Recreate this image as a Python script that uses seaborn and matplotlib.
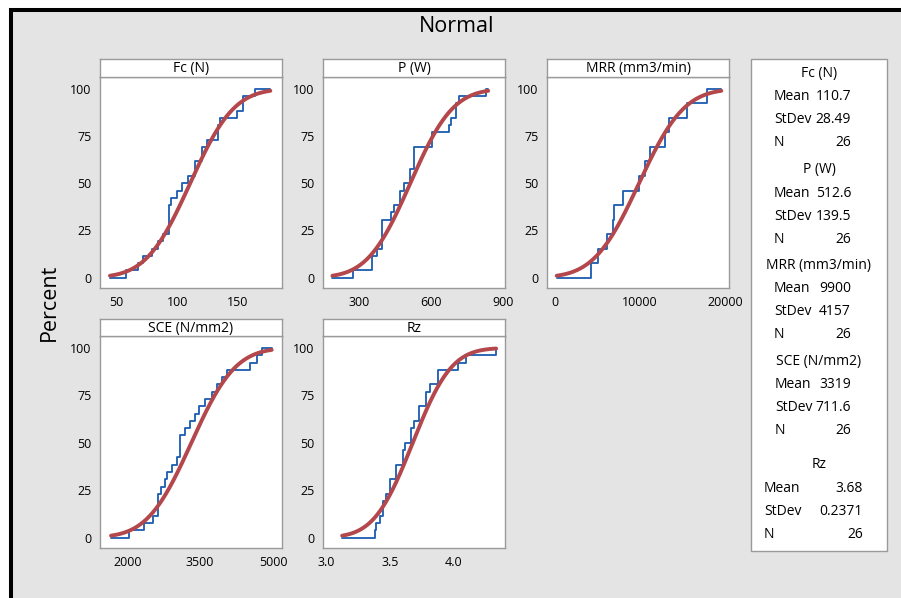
import math
import numpy as np
import matplotlib
matplotlib.use("Agg")
import matplotlib.pyplot as plt
from matplotlib.patches import Rectangle
import seaborn as sns

###############################################################################
# Data (read off the chart) - 26 sorted observations per response
###############################################################################
fc_vals = [57.7, 67.9, 72, 79, 84.4, 88, 93.5, 93.5, 93.5, 93.5, 95, 100.1, 103.7,
           109.2, 114.7, 114.7, 120.8, 120.8, 125, 134, 134, 135.5, 149.2, 154, 154, 164.3]
p_vals = [274.8, 351.7, 351.7, 375.5, 393.7, 393.7, 393.7, 393.7, 431.5, 442.7, 470.6,
          470.6, 484.6, 512.6, 512.6, 526.6, 526.6, 526.6, 603.5, 603.5, 673.4, 683.2,
          701.4, 701.4, 715.4, 827.3]
mrr_vals = [4213, 4213, 5118, 5118, 6102, 6102, 6811, 6811, 6969, 6969, 8071, 8071,
            9843, 9843, 10630, 10630, 11220, 11220, 12992, 12992, 13386, 13386,
            15551, 15551, 17835, 17835]
sce_vals = [2041, 2351, 2537, 2640, 2640, 2640, 2700, 2778, 2826, 2915, 3032, 3087,
            3087, 3087, 3190, 3293, 3397, 3466, 3603, 3741, 3844, 3947, 4050, 4518,
            4670, 4773]
rz_vals = [3.382, 3.39, 3.426, 3.447, 3.447, 3.468, 3.504, 3.504, 3.551, 3.551, 3.603,
           3.603, 3.616, 3.668, 3.668, 3.686, 3.728, 3.728, 3.785, 3.785, 3.816, 3.876,
           3.876, 4.032, 4.092, 4.331]

names = ["Fc (N)", "P (W)", "MRR (mm3/min)", "SCE (N/mm2)", "Rz"]
all_vals = [fc_vals, p_vals, mrr_vals, sce_vals, rz_vals]
means = [110.7, 512.6, 9900, 3319, 3.68]
stdevs = [28.49, 139.5, 4157, 711.6, 0.2371]
mean_txt = ["110.7", "512.6", "9900", "3319", "3.68"]
sd_txt = ["28.49", "139.5", "4157", "711.6", "0.2371"]
n_txt = ["26", "26", "26", "26", "26"]

xticks = [[50, 100, 150], [300, 600, 900], [0, 10000, 20000], [2000, 3500, 5000], [3.0, 3.5, 4.0]]
xticklabels = [["50", "100", "150"], ["300", "600", "900"], ["0", "10000", "20000"],
               ["2000", "3500", "5000"], ["3.0", "3.5", "4.0"]]
yticks = [0, 25, 50, 75, 100]

###############################################################################
# Layout (pixels of the 901 x 598 image)
###############################################################################
W, H = 901, 598
xlims = [(36.2, 186.6), (149, 907), (-909, 20470), (1437, 5186), (2.979, 4.40)]
panel_px = [(100, 77, 182, 211), (323, 77, 182, 211), (547, 77, 182, 211),
            (100, 336, 182, 212), (323, 336, 182, 212)]
header_h = [18, 18, 18, 17, 17]

BG = "#e4e4e4"
FRAME = "#9a9a9a"
BLUE = "#1a5cb0"
RED = "#b3474b"

sns.set_style("white")
plt.rcParams["font.family"] = ["Open Sans", "DejaVu Sans"]
plt.rcParams["text.color"] = "black"


def fig_rect(x, y, w, h):
    return [x / W, 1 - (y + h) / H, w / W, h / H]


def norm_cdf(x, mu, sd):
    return 0.5 * (1 + math.erf((x - mu) / (sd * math.sqrt(2))))


fig = plt.figure(figsize=(W / 100, H / 100), dpi=100)
fig.patch.set_facecolor("white")
fig.patches.append(Rectangle((11 / W, -0.1), 1.2, 1.1 - 10.5 / H, transform=fig.transFigure,
                             facecolor=BG, edgecolor="black", linewidth=2.9, zorder=-5))

for i, name in enumerate(names):
    vals = sorted(all_vals[i])
    n = len(vals)
    mu, sd = means[i], stdevs[i]
    lo = min(mu - 2.326 * sd, vals[0])
    hi = max(mu + 2.326 * sd, vals[-1])

    x, y, w, h = panel_px[i]
    ax = fig.add_axes(fig_rect(x, y, w, h))
    ax.set_facecolor("white")

    # fitted normal cdf
    cx = np.linspace(lo, hi, 200)
    cy = [100 * norm_cdf(v, mu, sd) for v in cx]
    sns.lineplot(x=cx, y=cy, color=RED, lw=2.8, ax=ax, zorder=2)

    # empirical cdf
    ex = [lo] + vals + [hi]
    ey = [0] + [100 * (k + 1) / n for k in range(n)] + [100]
    sns.lineplot(x=ex, y=ey, drawstyle="steps-post", estimator=None, sort=False,
                 color=BLUE, lw=1.3, ax=ax, zorder=1)

    ax.set_xlim(*xlims[i])
    ax.set_ylim(-5.5, 106.3)
    ax.set_xticks(xticks[i])
    ax.set_xticklabels(xticklabels[i])
    ax.set_yticks(yticks)
    ax.set_xlabel("")
    ax.set_ylabel("")
    ax.tick_params(axis="both", direction="out", length=4, width=1, color=FRAME,
                   labelsize=9, labelcolor="black", pad=2)
    for s in ax.spines.values():
        s.set_color(FRAME)
        s.set_linewidth(1)

    # header strip
    hax = fig.add_axes(fig_rect(x, y - header_h[i], w, header_h[i]))
    hax.set_facecolor("white")
    hax.set_xticks([])
    hax.set_yticks([])
    for s in hax.spines.values():
        s.set_color(FRAME)
        s.set_linewidth(1)
    hax.text(0.5, 0.45, name, ha="center", va="center", fontsize=10, transform=hax.transAxes)

# title and y label
fig.text(457 / W, 1 - 27 / H, "Normal", ha="center", va="center", fontsize=15.5)
fig.text(49 / W, 1 - 302 / H, "Percent", ha="center", va="center", fontsize=15.5, rotation=90)

# legend table
fig.patches.append(Rectangle((751 / W, 1 - 551 / H), 136 / W, 492 / H, transform=fig.transFigure,
                             facecolor="white", edgecolor=FRAME, linewidth=1, zorder=1))
group_y = [73, 170, 265, 361, 465]
lefts = [774, 774, 774, 775, 764]
rights = [851, 851, 851, 851, 863]
for i, name in enumerate(names):
    gy = group_y[i]
    fig.text(819 / W, 1 - gy / H, name, ha="center", va="center", fontsize=10)
    rows = [("Mean", mean_txt[i]), ("StDev", sd_txt[i]), ("N", n_txt[i])]
    for j, (lab, val) in enumerate(rows):
        ry = gy + 23.3 * (j + 1)
        fig.text(lefts[i] / W, 1 - ry / H, lab, ha="left", va="center", fontsize=10)
        fig.text(rights[i] / W, 1 - ry / H, val, ha="right", va="center", fontsize=10)

fig.savefig("out.png", dpi=100)
